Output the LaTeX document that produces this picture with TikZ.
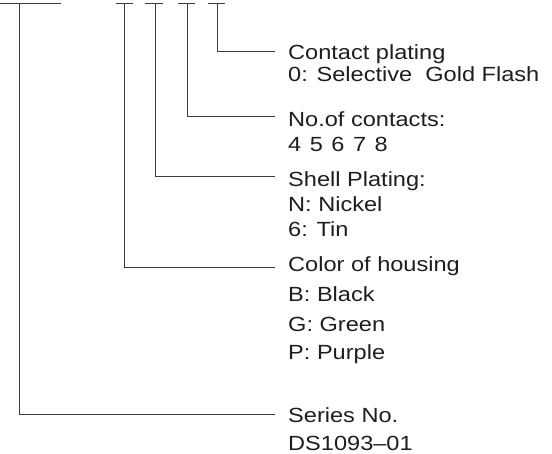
\documentclass[tikz,border=0pt]{standalone}
\usepackage{fontspec}
\setmainfont{Liberation Sans}[FakeStretch=1.15]
\usepackage{xcolor}
\usetikzlibrary{calc,positioning}
\definecolor{leadGray}{RGB}{60,60,60}
\definecolor{txtGray}{RGB}{30,30,30}

\begin{document}
\begin{tikzpicture}[x=1pt,y=-1pt,
    lead/.style={leadGray, line width=0.9pt},
    code/.style={anchor=base west, inner sep=0pt, text=txtGray,
                 font=\fontsize{20.5}{24}\selectfont}]
    % key values
    \pgfmathsetmacro{\ytop}{3}
    \pgfmathsetmacro{\xend}{275}
    \pgfmathsetmacro{\xtxt}{288}

    \useasboundingbox (0,0) rectangle (552,454);

    % bars of the part number
    \draw[lead] (0,\ytop) -- (61,\ytop);
    \draw[lead] (116,\ytop) -- (133,\ytop);
    \draw[lead] (145,\ytop) -- (163,\ytop);
    \draw[lead] (178,\ytop) -- (195,\ytop);
    \draw[lead] (208,\ytop) -- (225,\ytop);

    % drop points
    \coordinate (series) at (19,\ytop);
    \coordinate (housing) at (124,\ytop);
    \coordinate (shell) at (155,\ytop);
    \coordinate (count) at (187,\ytop);
    \coordinate (plating) at (217,\ytop);

    % lead ends
    \coordinate (platingEnd) at (\xend,51);
    \coordinate (countEnd) at (\xend,116);
    \coordinate (shellEnd) at (\xend,176);
    \coordinate (housingEnd) at (\xend,267);
    \coordinate (seriesEnd) at (\xend,414);

    % leads
    \draw[lead] (plating) |- (platingEnd);
    \draw[lead] (count) |- (countEnd);
    \draw[lead] (shell) |- (shellEnd);
    \draw[lead] (housing) |- (housingEnd);
    \draw[lead] (series) |- (seriesEnd);

    % labels
    \node[code] (platingA) at (\xtxt,60) {Contact plating};
    \node[code] (platingB) at (\xtxt,82) {0: Selective\ \ Gold Flash};
    \node[code] (countA) at (\xtxt,127) {No.of contacts:};
    \node[code] (countB) at (\xtxt,152) {4\hspace{8.5pt}5\hspace{8.5pt}6\hspace{8.5pt}7\hspace{8.5pt}8};
    \node[code] (shellA) at (\xtxt,187) {Shell Plating:};
    \node[code] (shellB) at (\xtxt,212) {N: Nickel};
    \node[code] (shellC) at (\xtxt,237) {6: Tin};
    \node[code] (housingA) at (\xtxt,272) {Color of housing};
    \node[code] (housingB) at (\xtxt,302) {B: Black};
    \node[code] (housingC) at (\xtxt,332) {G: Green};
    \node[code] (housingD) at (\xtxt,360) {P: Purple};
    \node[code] (seriesA) at (\xtxt,423) {Series No.};
    \node[code] (seriesB) at (\xtxt,450) {DS1093--01};
\end{tikzpicture}
\end{document}
